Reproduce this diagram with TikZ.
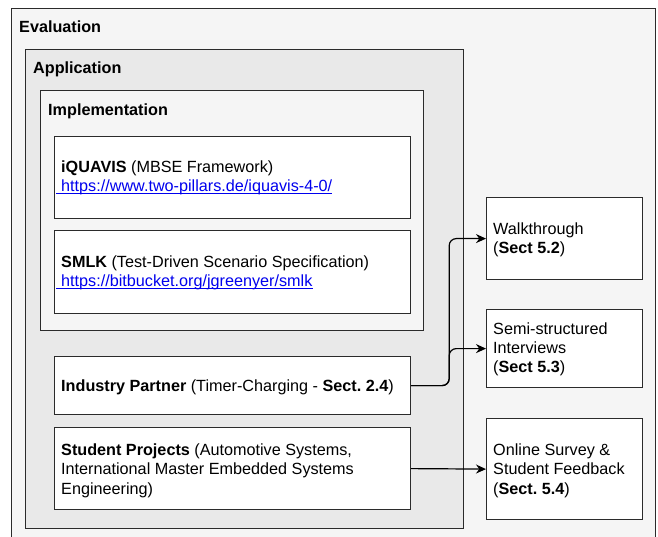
\documentclass[tikz,border=0pt]{standalone}
\usepackage{fontspec}
\setmainfont{Liberation Sans}
\usetikzlibrary{arrows.meta}
\frenchspacing
\definecolor{outerfill}{HTML}{F5F5F5}
\definecolor{appfill}{HTML}{E9E9E9}
\definecolor{implfill}{HTML}{F5F5F5}
\definecolor{edge}{HTML}{2B2B2B}
\definecolor{linkblue}{RGB}{0,0,238}
\tikzset{
  container/.style={draw=edge, line width=1.2pt, anchor=north west, inner sep=0pt},
  wbox/.style={draw=edge, line width=1.2pt, fill=white, anchor=north west, inner sep=0pt},
  head/.style={anchor=base west, inner sep=0pt, font=\fontsize{16.2}{19.2}\selectfont\bfseries},
  txt/.style={anchor=base west, inner sep=0pt, align=left},
  link/.style={anchor=base west, inner sep=0pt, text=linkblue},
  uline/.style={draw=linkblue, line width=1pt},
  arr/.style={draw=black, line width=1.2pt, -{Stealth[length=10pt,width=9pt]}, rounded corners=7pt},
}
\begin{document}
\frenchspacing
\begin{tikzpicture}[x=1pt,y=-1pt, font=\fontsize{16.2}{19.2}\selectfont\frenchspacing]
\useasboundingbox (0,0) rectangle (658,537);
\clip (0,0) rectangle (658,537);
% containers
\node[container, fill=outerfill, minimum width=644, minimum height=540] (eval) at (11,8) {};
\node[head] (evalt) at (19,32.7) {Evaluation};
\node[container, fill=appfill, minimum width=438, minimum height=479] (app) at (25,49) {};
\node[head] (appt) at (33,74) {Application};
\node[container, fill=implfill, minimum width=383, minimum height=240] (impl) at (40,90) {};
\node[head] (implt) at (48,115.5) {Implementation};
% inner boxes
\node[wbox, minimum width=356, minimum height=82] (iq) at (54,136) {};
\node[txt] (iqt) at (61,172.7) {\textbf{iQUAVIS} (MBSE Framework)};
\node[link] (iql) at (61,191.7) {https://www.two-pillars.de/iquavis-4-0/};
\draw[uline] ([xshift=-5pt,yshift=-1.8pt]iql.base west) -- ([yshift=-1.8pt]iql.base east);
\node[wbox, minimum width=356, minimum height=83] (smlk) at (54,230) {};
\node[txt] (smlkt) at (61,267.7) {\textbf{SMLK} (Test-Driven Scenario Specification)};
\node[link] (smlkl) at (61,287) {https://bitbucket.org/jgreenyer/smlk};
\draw[uline] ([xshift=-5pt,yshift=-1.8pt]smlkl.base west) -- ([yshift=-1.8pt]smlkl.base east);
\node[wbox, minimum width=356, minimum height=58] (ind) at (54,356) {};
\node[txt] (indt) at (61,391.5) {\textbf{Industry Partner} (Timer-Charging - \textbf{Sect. 2.4})};
\node[wbox, minimum width=356, minimum height=82] (stu) at (54,427) {};
\node[txt] (stut) at (61,494) {\textbf{Student Projects} (Automotive Systems,\\International Master Embedded Systems\\Engineering)};
% right boxes
\node[wbox, minimum width=156, minimum height=82] (walk) at (486,197) {};
\node[txt] (walkt) at (493,253.3) {Walkthrough\\(\textbf{Sect 5.2})};
\node[wbox, minimum width=156, minimum height=78] (semi) at (486,309) {};
\node[txt] (semit) at (493,372.7) {Semi-structured\\Interviews\\(\textbf{Sect 5.3})};
\node[wbox, minimum width=156, minimum height=101] (online) at (486,418) {};
\node[txt] (onlinet) at (493,494) {Online Survey \&\\Student Feedback\\(\textbf{Sect. 5.4})};
% connectors
\draw[arr] (ind.east) -- ++(38,0) |- (walk.west);
\draw[arr] (ind.east) -- ++(38,0) |- (semi.west);
\draw[arr, rounded corners=0pt] (stu.east) -- (online.west);
\end{tikzpicture}
\end{document}
